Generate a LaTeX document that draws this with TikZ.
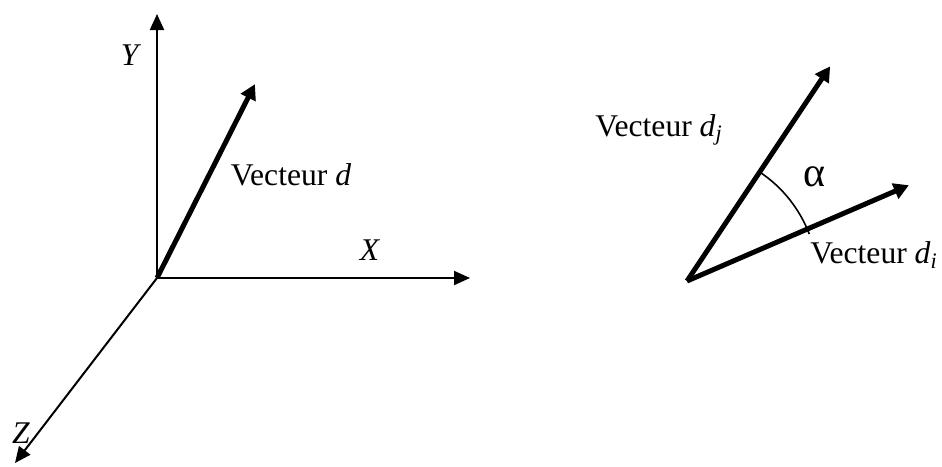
\documentclass[tikz,border=0pt]{standalone}
\usepackage{fontspec}
\setmainfont{Liberation Serif}
\usetikzlibrary{arrows.meta}

\begin{document}
\begin{tikzpicture}[x=0.5pt, y=-0.5pt,
	every node/.style={font=\fontsize{15.8}{18}\selectfont, inner sep=0pt},
	axis/.style={line width=1pt, -{Triangle[length=8pt, width=7pt]}},
	vec/.style={line width=2.5pt, -{Triangle[length=7.5pt, width=8pt]}, shorten >=-1pt}]
	\useasboundingbox (0,0) rectangle (942,466);
	% repere
	\coordinate (O) at (157,278);
	\coordinate (Xe) at (470,278); \coordinate (Ye) at (157,14); \coordinate (Ze) at (15,463);
	\coordinate (De) at (254,86);
	\draw[axis] (O) -- (Xe);
	\draw[axis] (O) -- (Ye);
	\draw[axis] (O) -- (Ze);
	\draw[vec] (O) -- (De);
	\node (lX) at (370,250) {\textit{X}};
	\node (lY) at (131,55) {\textit{Y}};
	\node (lZ) at (21,433) {\textit{Z}};
	\node (lD) at (291,175) {Vecteur \textit{d}};
	% angle entre deux vecteurs
	\coordinate (P) at (687,281);
	\coordinate (Dj) at (829,68); \coordinate (Di) at (907,186);
	\draw[vec] (P) -- (Dj);
	\draw[vec] (P) -- (Di);
	\draw[line width=0.8pt] ([shift={(-21:131)}]P) arc[start angle=-21, end angle=-56, radius=131];
	\node (lDj) at (659,130) {Vecteur \textit{d}\textsubscript{\textit{j}}};
	\node (lDi) at (874,255) {Vecteur \textit{d}\textsubscript{\textit{i}}};
	\node[font=\fontsize{21}{24}\selectfont] (la) at (814,177) {α};
\end{tikzpicture}
\end{document}
